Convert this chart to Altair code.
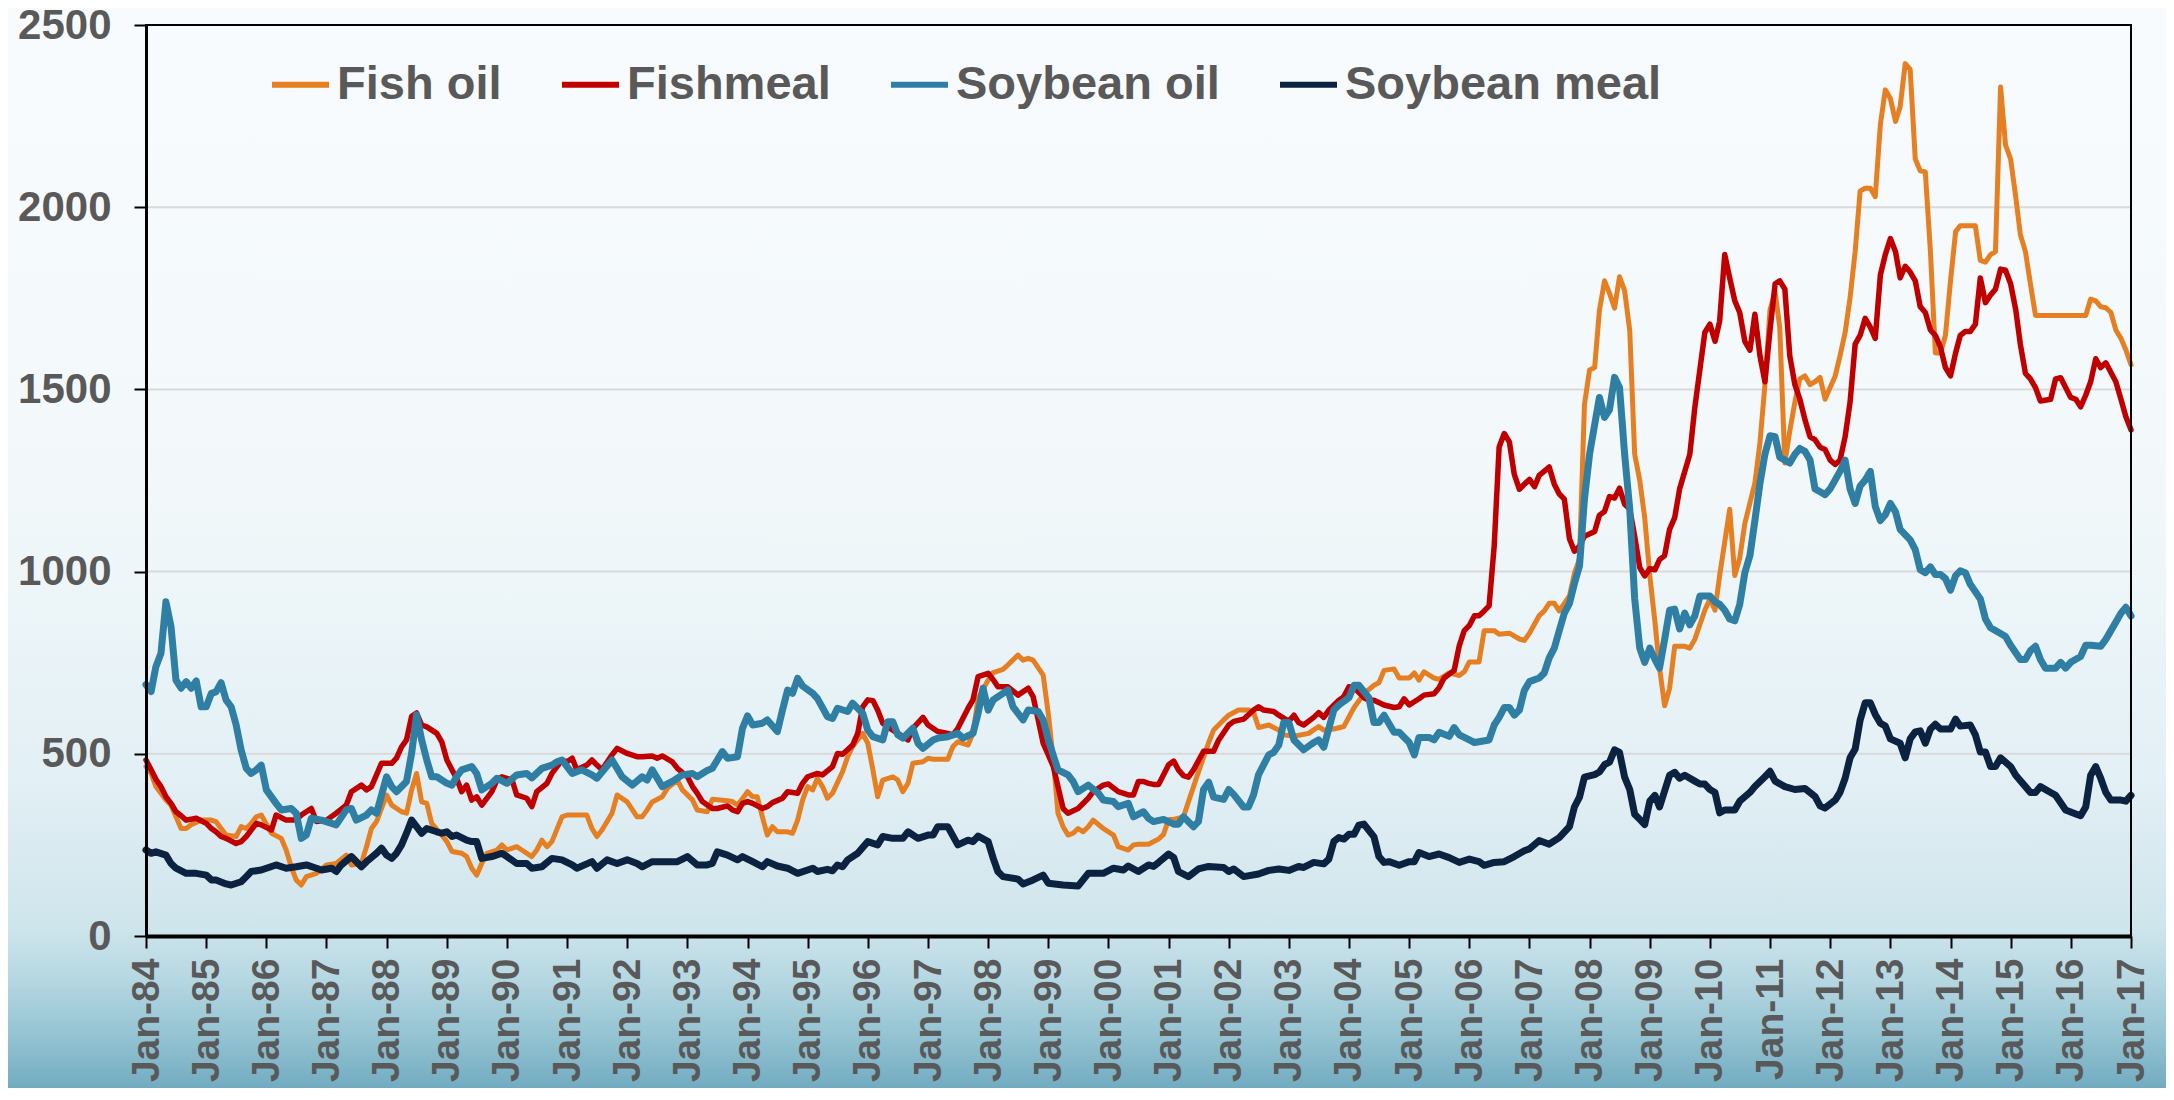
import altair as alt
import pandas as pd

SERIES = ["Fish oil", "Fishmeal", "Soybean oil", "Soybean meal"]
COLORS = ["#E67E22", "#C00000", "#2E7FA3", "#0B2240"]
WIDTHS = [5, 5.5, 7, 7]
YEARS = list(range(1984, 2018))
Y_TICKS = [0, 500, 1000, 1500, 2000, 2500]
GRID_VALUES = [500, 1000, 1500, 2000]

# month index (months since Jan-1984) and price (USD/t)
FISH_OIL_M = [0, 1, 2, 4, 5, 6, 7, 8, 9, 11, 13, 14, 15, 16, 18, 19, 20, 21, 22, 23, 25, 27, 28, 29, 30, 31, 32, 34, 36, 38, 40, 41, 43, 44, 45, 46, 48, 49, 51, 52, 53, 54, 55, 56, 57, 59, 60, 61, 63, 64, 65, 66, 67, 68, 70, 71, 72, 74, 75, 77, 78, 79, 80, 81, 83, 84, 86, 88, 89, 90, 91, 93, 94, 96, 98, 99, 100, 101, 103, 104, 106, 107, 109, 110, 112, 113, 116, 117, 118, 120, 121, 122, 123, 124, 125, 126, 128, 129, 130, 131, 132, 133, 134, 135, 136, 137, 139, 140, 141, 143, 144, 145, 146, 147, 149, 150, 151, 152, 153, 155, 156, 157, 160, 161, 162, 164, 165, 166, 168, 169, 171, 172, 174, 175, 176, 177, 179, 180, 181, 182, 183, 184, 185, 186, 187, 188, 189, 191, 193, 194, 196, 197, 198, 200, 202, 203, 204, 205, 207, 208, 210, 212, 213, 215, 216, 218, 220, 221, 222, 224, 226, 227, 229, 232, 234, 235, 237, 239, 241, 243, 245, 246, 247, 249, 250, 252, 253, 254, 255, 257, 258, 260, 262, 263, 264, 266, 267, 269, 270, 272, 274, 275, 276, 278, 279, 280, 281, 282, 284, 285, 286, 287, 288, 289, 290, 291, 292, 293, 294, 295, 296, 297, 298, 299, 300, 301, 302, 303, 304, 305, 307, 308, 309, 311, 312, 313, 314, 316, 317, 318, 319, 321, 322, 323, 324, 325, 326, 327, 328, 329, 330, 331, 332, 333, 334, 335, 336, 337, 338, 339, 340, 341, 342, 343, 344, 345, 346, 347, 348, 349, 350, 351, 352, 353, 354, 355, 356, 357, 358, 359, 360, 361, 362, 365, 366, 367, 368, 369, 370, 371, 372, 373, 374, 375, 376, 377, 387, 388, 389, 390, 391, 392, 393, 394, 395, 396]
FISH_OIL_V = [465, 446, 410, 373, 359, 327, 295, 295, 305, 318, 318, 314, 295, 277, 273, 300, 295, 309, 327, 332, 282, 268, 236, 190, 154, 140, 163, 172, 195, 199, 222, 195, 199, 245, 295, 314, 387, 359, 341, 337, 401, 446, 368, 364, 309, 277, 259, 232, 227, 218, 186, 167, 199, 227, 236, 250, 236, 245, 236, 218, 236, 263, 245, 259, 327, 332, 332, 332, 295, 273, 291, 337, 387, 368, 327, 327, 346, 368, 382, 405, 428, 401, 373, 346, 341, 375, 371, 369, 359, 396, 382, 382, 327, 277, 300, 286, 286, 282, 318, 373, 410, 401, 433, 410, 378, 392, 451, 492, 520, 556, 529, 456, 382, 428, 437, 428, 396, 419, 474, 478, 488, 485, 485, 520, 533, 524, 556, 652, 703, 723, 732, 744, 771, 757, 762, 757, 716, 611, 483, 337, 300, 277, 282, 295, 286, 300, 318, 295, 277, 245, 236, 250, 252, 252, 266, 279, 320, 320, 327, 368, 450, 531, 565, 593, 606, 620, 620, 613, 572, 579, 565, 552, 548, 556, 575, 565, 568, 575, 627, 665, 688, 695, 729, 733, 708, 708, 722, 702, 725, 708, 704, 722, 715, 725, 752, 752, 838, 838, 828, 831, 815, 811, 831, 879, 892, 913, 913, 892, 933, 995, 1035, 1458, 1553, 1560, 1717, 1798, 1764, 1723, 1809, 1771, 1662, 1322, 1250, 1148, 989, 862, 735, 632, 679, 795, 795, 790, 814, 894, 925, 894, 989, 1171, 989, 1037, 1132, 1243, 1354, 1513, 1719, 1767, 1671, 1298, 1386, 1465, 1529, 1537, 1513, 1521, 1533, 1473, 1505, 1537, 1592, 1656, 1751, 1878, 2044, 2052, 2052, 2029, 2227, 2322, 2298, 2235, 2275, 2394, 2378, 2132, 2100, 2097, 1878, 1600, 1600, 1648, 1798, 1933, 1949, 1949, 1854, 1849, 1870, 1878, 2330, 2171, 2132, 2029, 1925, 1878, 1790, 1703, 1703, 1748, 1743, 1727, 1724, 1711, 1663, 1640, 1608, 1568]

FISHMEAL_M = [0, 1, 2, 3, 4, 5, 6, 7, 8, 10, 12, 13, 14, 15, 16, 18, 19, 20, 22, 23, 25, 26, 28, 30, 31, 33, 34, 36, 38, 40, 41, 43, 44, 45, 47, 49, 50, 51, 52, 53, 54, 55, 56, 58, 59, 60, 61, 62, 63, 64, 65, 66, 67, 69, 70, 71, 73, 74, 76, 77, 78, 80, 81, 83, 84, 85, 86, 88, 89, 90, 91, 93, 94, 96, 98, 99, 101, 102, 103, 105, 106, 108, 109, 110, 111, 113, 114, 116, 117, 118, 119, 120, 121, 123, 124, 125, 127, 128, 130, 131, 132, 134, 135, 137, 138, 139, 141, 142, 143, 144, 145, 146, 147, 149, 151, 152, 153, 155, 156, 158, 160, 161, 162, 164, 165, 166, 168, 169, 170, 172, 174, 176, 177, 178, 179, 181, 182, 183, 184, 186, 188, 189, 191, 192, 194, 196, 197, 198, 199, 200, 201, 202, 204, 205, 206, 207, 208, 209, 211, 213, 214, 216, 217, 219, 221, 222, 223, 225, 226, 228, 229, 230, 231, 233, 234, 235, 236, 238, 239, 240, 241, 243, 244, 245, 247, 249, 250, 251, 252, 254, 255, 257, 258, 259, 261, 262, 263, 264, 265, 266, 267, 268, 269, 270, 271, 272, 273, 274, 275, 276, 277, 278, 280, 281, 282, 283, 284, 285, 286, 287, 289, 290, 291, 292, 293, 294, 295, 296, 297, 298, 299, 300, 301, 302, 303, 304, 305, 306, 308, 309, 311, 312, 313, 314, 315, 316, 317, 318, 319, 320, 321, 322, 323, 324, 325, 326, 327, 328, 329, 330, 331, 332, 333, 334, 335, 336, 337, 338, 339, 340, 341, 342, 343, 344, 345, 346, 347, 348, 349, 350, 351, 352, 353, 354, 355, 356, 357, 358, 359, 360, 361, 362, 363, 364, 365, 366, 367, 368, 369, 370, 371, 372, 373, 374, 375, 376, 377, 378, 380, 381, 382, 383, 384, 385, 386, 387, 388, 389, 390, 391, 393, 394, 395, 396]
FISHMEAL_V = [483, 456, 430, 410, 382, 364, 341, 330, 318, 323, 309, 295, 286, 273, 268, 254, 259, 273, 309, 305, 291, 332, 318, 318, 332, 350, 314, 318, 337, 359, 396, 414, 401, 410, 474, 474, 488, 519, 538, 603, 612, 579, 574, 556, 533, 483, 456, 433, 396, 414, 373, 382, 359, 396, 428, 437, 428, 387, 378, 355, 396, 419, 446, 483, 478, 488, 456, 469, 483, 469, 456, 497, 515, 501, 492, 492, 494, 488, 494, 478, 460, 437, 410, 392, 369, 350, 350, 357, 346, 341, 364, 369, 364, 350, 355, 366, 378, 396, 392, 419, 437, 446, 442, 465, 501, 499, 524, 556, 629, 648, 646, 620, 584, 565, 547, 538, 570, 600, 579, 561, 556, 552, 570, 625, 648, 712, 721, 703, 684, 684, 661, 680, 657, 593, 529, 465, 410, 350, 337, 350, 378, 396, 414, 417, 396, 387, 387, 424, 424, 419, 416, 416, 470, 480, 456, 440, 436, 456, 507, 507, 538, 579, 589, 595, 620, 629, 620, 616, 606, 589, 606, 586, 579, 600, 613, 600, 620, 647, 657, 684, 682, 654, 647, 647, 634, 627, 629, 651, 634, 651, 661, 665, 681, 708, 729, 797, 838, 852, 879, 879, 892, 906, 1070, 1342, 1379, 1356, 1267, 1226, 1240, 1253, 1233, 1264, 1287, 1240, 1213, 1199, 1090, 1056, 1070, 1097, 1110, 1155, 1165, 1206, 1202, 1229, 1185, 1172, 1097, 1011, 988, 1008, 1005, 1033, 1044, 1116, 1148, 1227, 1322, 1449, 1656, 1679, 1632, 1687, 1870, 1806, 1743, 1711, 1632, 1608, 1706, 1592, 1521, 1663, 1790, 1798, 1775, 1592, 1513, 1473, 1417, 1370, 1362, 1341, 1335, 1306, 1294, 1306, 1370, 1465, 1624, 1648, 1695, 1671, 1640, 1814, 1870, 1914, 1878, 1806, 1838, 1822, 1798, 1727, 1711, 1663, 1648, 1616, 1560, 1537, 1600, 1648, 1659, 1659, 1679, 1806, 1738, 1759, 1775, 1830, 1827, 1790, 1719, 1624, 1544, 1529, 1505, 1468, 1473, 1529, 1532, 1505, 1478, 1473, 1452, 1484, 1521, 1584, 1560, 1573, 1521, 1473, 1425, 1389]

SOY_OIL_M = [0, 1, 2, 3, 4, 5, 6, 7, 8, 9, 10, 11, 12, 13, 14, 15, 16, 17, 18, 19, 20, 21, 22, 23, 24, 26, 27, 29, 30, 31, 32, 33, 35, 37, 38, 40, 41, 42, 44, 45, 46, 48, 49, 50, 52, 53, 54, 55, 56, 57, 58, 60, 61, 62, 63, 65, 66, 67, 69, 70, 72, 74, 76, 77, 79, 81, 82, 83, 85, 87, 89, 90, 93, 95, 97, 99, 100, 101, 103, 105, 107, 109, 110, 112, 113, 115, 116, 118, 119, 120, 121, 123, 124, 126, 127, 128, 129, 130, 131, 133, 134, 136, 137, 138, 140, 141, 143, 144, 145, 147, 148, 149, 150, 151, 153, 154, 155, 157, 158, 160, 162, 163, 165, 166, 167, 168, 169, 171, 172, 173, 175, 176, 178, 179, 180, 182, 184, 185, 186, 188, 190, 191, 193, 194, 196, 197, 199, 200, 201, 203, 205, 206, 207, 209, 210, 211, 212, 213, 215, 216, 217, 219, 220, 221, 222, 224, 225, 226, 227, 228, 229, 231, 233, 234, 235, 237, 238, 240, 241, 242, 244, 245, 246, 247, 249, 250, 252, 253, 254, 256, 257, 258, 260, 261, 262, 264, 265, 268, 269, 270, 271, 272, 273, 274, 275, 276, 278, 279, 280, 281, 282, 283, 284, 285, 286, 287, 288, 289, 290, 291, 292, 293, 294, 295, 296, 297, 298, 299, 300, 301, 302, 303, 304, 305, 306, 307, 308, 309, 310, 312, 313, 314, 315, 316, 317, 318, 319, 320, 321, 322, 323, 324, 325, 326, 327, 328, 329, 330, 331, 332, 333, 334, 335, 336, 338, 339, 340, 341, 342, 343, 344, 345, 346, 347, 348, 349, 350, 352, 353, 354, 355, 356, 357, 358, 359, 360, 361, 362, 363, 364, 366, 367, 368, 370, 371, 372, 374, 375, 376, 377, 378, 379, 381, 382, 383, 384, 386, 387, 388, 390, 391, 392, 394, 395, 396]
SOY_OIL_V = [690, 671, 739, 776, 917, 849, 702, 680, 698, 680, 700, 629, 629, 666, 670, 695, 648, 629, 580, 510, 460, 446, 456, 469, 401, 364, 346, 350, 337, 268, 277, 323, 318, 309, 305, 346, 350, 318, 332, 346, 337, 437, 410, 396, 424, 501, 607, 538, 483, 437, 437, 419, 414, 437, 456, 465, 446, 401, 419, 433, 419, 442, 446, 434, 460, 469, 478, 483, 446, 456, 442, 433, 483, 437, 414, 437, 428, 456, 410, 424, 442, 446, 437, 454, 460, 506, 488, 492, 570, 604, 579, 584, 593, 561, 620, 675, 666, 707, 686, 666, 652, 602, 597, 625, 616, 639, 611, 565, 547, 538, 588, 588, 552, 543, 570, 529, 515, 538, 543, 547, 556, 543, 556, 611, 680, 620, 648, 666, 675, 629, 593, 620, 616, 593, 538, 456, 442, 424, 396, 414, 392, 373, 369, 355, 364, 327, 341, 323, 314, 320, 307, 307, 327, 300, 314, 402, 422, 381, 375, 402, 388, 354, 354, 388, 443, 497, 504, 524, 586, 586, 538, 511, 531, 538, 518, 620, 634, 654, 688, 688, 654, 586, 586, 606, 559, 559, 531, 497, 545, 545, 538, 559, 548, 572, 552, 538, 531, 538, 579, 600, 627, 627, 606, 620, 674, 698, 708, 722, 763, 790, 838, 886, 913, 967, 1015, 1199, 1322, 1403, 1478, 1423, 1444, 1533, 1505, 1322, 1172, 926, 790, 751, 790, 759, 735, 814, 894, 897, 843, 886, 854, 878, 933, 933, 917, 910, 894, 870, 865, 910, 997, 1044, 1140, 1243, 1322, 1373, 1370, 1314, 1306, 1298, 1322, 1338, 1330, 1306, 1227, 1219, 1211, 1227, 1275, 1306, 1227, 1187, 1235, 1251, 1275, 1179, 1140, 1156, 1187, 1164, 1116, 1087, 1060, 1005, 997, 1013, 992, 992, 981, 949, 989, 1002, 997, 965, 925, 870, 846, 830, 822, 798, 759, 759, 783, 795, 759, 735, 735, 751, 735, 751, 767, 798, 798, 795, 814, 838, 886, 902, 878]

SOY_MEAL_M = [0, 1, 2, 4, 5, 6, 8, 10, 12, 13, 14, 16, 17, 19, 20, 21, 23, 24, 26, 28, 30, 32, 34, 35, 37, 38, 39, 41, 43, 44, 46, 47, 48, 49, 50, 51, 52, 53, 54, 55, 56, 58, 59, 60, 61, 62, 64, 65, 66, 67, 69, 71, 72, 74, 76, 77, 79, 81, 83, 85, 86, 89, 90, 92, 94, 96, 98, 99, 101, 104, 106, 108, 110, 112, 113, 114, 116, 118, 119, 121, 123, 124, 126, 128, 130, 133, 134, 136, 137, 138, 139, 140, 142, 144, 146, 147, 149, 151, 152, 154, 156, 157, 158, 160, 162, 164, 165, 166, 168, 169, 170, 171, 174, 175, 177, 179, 180, 183, 186, 188, 191, 193, 195, 196, 198, 200, 201, 202, 204, 205, 206, 208, 210, 212, 215, 216, 217, 219, 222, 224, 226, 228, 230, 231, 233, 235, 236, 237, 238, 239, 240, 241, 242, 243, 245, 246, 247, 248, 250, 252, 253, 254, 256, 258, 260, 262, 264, 266, 267, 269, 271, 273, 275, 276, 278, 280, 282, 284, 285, 286, 287, 289, 290, 291, 292, 293, 294, 295, 296, 297, 298, 299, 300, 301, 302, 304, 305, 306, 307, 309, 310, 311, 312, 313, 314, 315, 317, 318, 320, 321, 323, 324, 325, 327, 329, 331, 333, 334, 335, 337, 338, 339, 340, 341, 342, 343, 344, 345, 346, 347, 348, 350, 351, 352, 353, 354, 355, 356, 357, 358, 360, 361, 362, 364, 365, 366, 367, 368, 369, 370, 372, 373, 375, 376, 377, 378, 380, 381, 383, 385, 386, 387, 388, 389, 390, 391, 392, 394, 395, 396]
SOY_MEAL_V = [236, 227, 231, 222, 199, 186, 172, 172, 167, 154, 154, 143, 140, 149, 163, 177, 181, 186, 195, 186, 190, 195, 186, 181, 186, 177, 195, 218, 190, 204, 227, 241, 222, 213, 227, 250, 282, 318, 300, 282, 295, 286, 282, 286, 273, 277, 263, 259, 259, 213, 218, 227, 218, 199, 199, 186, 190, 213, 209, 195, 186, 204, 186, 209, 199, 209, 199, 190, 204, 204, 204, 218, 195, 195, 199, 231, 222, 209, 218, 204, 190, 204, 192, 186, 172, 186, 177, 183, 179, 195, 190, 209, 227, 259, 250, 273, 268, 268, 286, 268, 277, 277, 300, 300, 250, 263, 259, 274, 259, 213, 177, 163, 156, 143, 154, 167, 145, 140, 137, 172, 172, 186, 181, 192, 177, 195, 191, 202, 225, 215, 177, 163, 184, 191, 188, 177, 184, 163, 170, 180, 184, 180, 191, 188, 202, 198, 211, 259, 270, 266, 279, 279, 304, 307, 272, 218, 202, 204, 194, 204, 204, 229, 218, 225, 215, 202, 211, 204, 194, 202, 204, 218, 234, 239, 262, 252, 270, 300, 354, 381, 436, 443, 450, 470, 477, 511, 504, 436, 402, 334, 320, 306, 370, 386, 354, 441, 449, 433, 441, 425, 417, 417, 402, 394, 338, 346, 346, 370, 394, 410, 437, 452, 425, 410, 402, 405, 383, 357, 351, 373, 394, 433, 489, 513, 592, 640, 640, 608, 584, 576, 541, 529, 489, 541, 560, 563, 529, 568, 581, 568, 568, 595, 576, 579, 552, 505, 505, 465, 465, 489, 465, 441, 410, 394, 394, 410, 394, 386, 346, 335, 330, 354, 441, 465, 433, 394, 373, 373, 370, 386]


def month_to_date(m):
    return f"{1984 + m // 12}-{m % 12 + 1:02d}-01"


rows = []
for name, ms, vs in [
    ("Fish oil", FISH_OIL_M, FISH_OIL_V),
    ("Fishmeal", FISHMEAL_M, FISHMEAL_V),
    ("Soybean oil", SOY_OIL_M, SOY_OIL_V),
    ("Soybean meal", SOY_MEAL_M, SOY_MEAL_V),
]:
    for m, v in zip(ms, vs):
        rows.append({"date": month_to_date(m), "series": name, "value": v})
df = pd.DataFrame(rows)

W, H = 1985, 911
PL, PT, PR, PB = 138, 17, 35, 152
FONT = "Liberation Sans"
GREY = "#595959"

bg_gradient = alt.LinearGradient(
    gradient="linear",
    x1=0, x2=0, y1=0, y2=1,
    stops=[
        alt.GradientStop(offset=0.0, color="#f8fbfd"),
        alt.GradientStop(offset=0.45, color="#f2f8fa"),
        alt.GradientStop(offset=0.71, color="#e3f0f5"),
        alt.GradientStop(offset=0.85, color="#cfe5ec"),
        alt.GradientStop(offset=0.90, color="#b5d7e2"),
        alt.GradientStop(offset=0.955, color="#92c2d1"),
        alt.GradientStop(offset=1.0, color="#72abc0"),
    ],
)

one_row = pd.DataFrame({"k": [0]})

background = alt.Chart(one_row).mark_rect(fill=bg_gradient, strokeWidth=0).encode(
    x=alt.value(-PL), x2=alt.value(W + PR),
    y=alt.value(-PT), y2=alt.value(H + PB),
)

x_enc = alt.X(
    "date:T",
    scale=alt.Scale(
        type="utc",
        domain=[alt.DateTime(year=1984, month=1, date=1, utc=True),
                alt.DateTime(year=2017, month=1, date=1, utc=True)],
    ),
    axis=alt.Axis(
        values=[alt.DateTime(year=y, month=1, date=1, utc=True) for y in YEARS],
        labelExpr="utcFormat(datum.value, '%b-%y')", labelAngle=270, title=None,
        labelFont=FONT, labelFontSize=39, labelFontWeight="bold", labelColor=GREY,
        labelPadding=10, labelOverlap=False, labelFlush=False, labelBound=False,
        tickColor="black", tickWidth=2, tickSize=12,
        domainColor="black", domainWidth=4, grid=False, zindex=2,
    ),
)
y_axis = alt.Axis(
    values=Y_TICKS, format="d", title=None,
    labelFont=FONT, labelFontSize=42, labelFontWeight="bold", labelColor=GREY,
    labelPadding=23, labelFlush=False,
    tickColor="black", tickWidth=2, tickSize=12,
    domainColor="black", domainWidth=3, grid=False, zindex=2,
)
y_enc = alt.Y("value:Q", scale=alt.Scale(domain=[0, 2500], nice=False), axis=y_axis)

grid = alt.Chart(pd.DataFrame({"value": GRID_VALUES})).mark_rule(
    color="#d9d9d9", strokeWidth=2
).encode(y=y_enc, x=alt.value(0), x2=alt.value(W))

color_enc = alt.Color(
    "series:N",
    scale=alt.Scale(domain=SERIES, range=COLORS),
    legend=alt.Legend(
        orient="none", legendX=123, legendY=28, direction="horizontal",
        title=None, padding=0,
        labelFont=FONT, labelFontSize=47, labelFontWeight="bold", labelColor=GREY,
        labelLimit=1000, labelOffset=5, columnPadding=48,
        symbolType="stroke", symbolSize=3249, symbolStrokeWidth=6,
    ),
)

layers = [background, grid]
for name, w in zip(SERIES, WIDTHS):
    layers.append(
        alt.Chart(df)
        .transform_filter(alt.datum.series == name)
        .mark_line(strokeWidth=w, strokeJoin="round", strokeCap="round")
        .encode(x=x_enc, y=y_enc, color=color_enc)
    )

border = alt.Chart(one_row).mark_rect(filled=False, stroke="black", strokeWidth=2).encode(
    x=alt.value(0), x2=alt.value(W), y=alt.value(0), y2=alt.value(H)
)
layers.append(border)

chart = (
    alt.layer(*layers)
    .properties(
        width=W, height=H,
        padding={"left": PL, "top": PT, "right": PR, "bottom": PB},
        autosize=alt.AutoSizeParams(type="none"),
    )
    .configure_view(stroke=None)
    .configure(font=FONT)
)

chart.save("out.html", embed_options={"renderer": "svg", "actions": False})
